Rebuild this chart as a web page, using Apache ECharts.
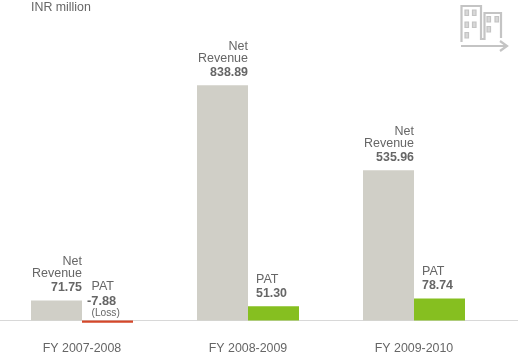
<!DOCTYPE html>
<html><head><meta charset="utf-8">
<style>html,body{margin:0;padding:0;background:#fff}#c{width:518px;height:359px}</style>
<script src="https://cdn.jsdelivr.net/npm/echarts@6/dist/echarts.min.js"></script>
</head><body><div id="c"></div>
<script>
const categories = ['FY 2007-2008', 'FY 2008-2009', 'FY 2009-2010'];
const netRevenue = [71.75, 838.89, 535.96];
const pat = [-7.88, 51.30, 78.74];
const unitLabel = 'INR million';
const font = '"Liberation Sans", Arial, sans-serif';
const grey = '#666';
const iconColor = '#c4c4c4';
const baseColor = '#d8d8d8';

const richText = {
  n: {fontFamily: font, fontSize: 12.5, color: grey, lineHeight: 12},
  b: {fontFamily: font, fontSize: 12.4, color: grey, fontWeight: 'bold', lineHeight: 17},
  n2: {fontFamily: font, fontSize: 12.5, color: grey, lineHeight: 12, padding: [0, 0, 0, 4.5]},
  b2: {fontFamily: font, fontSize: 12.8, color: grey, fontWeight: 'bold', lineHeight: 16},
  s: {fontFamily: font, fontSize: 10.2, color: grey, lineHeight: 8, padding: [0, 0, 0, 4.5]}
};
const win = (x, y) => ({type: 'rect', shape: {x, y, width: 3.5, height: 5.5}, style: {fill: '#d8d8d8', stroke: iconColor, lineWidth: 1.2}});

const chart = echarts.init(document.getElementById('c'));
chart.setOption({
  animation: false,
  backgroundColor: '#fff',
  title: {text: unitLabel, left: 31, top: 2, padding: 0, textStyle: {fontFamily: font, fontSize: 12.4, color: grey, fontWeight: 'normal'}},
  grid: {left: -1, width: 498, top: 68, height: 280.6, outerBoundsMode: 'none'},
  xAxis: {
    type: 'category', data: categories, offset: -28,
    axisLine: {show: false}, axisTick: {show: false},
    axisLabel: {fontFamily: font, fontSize: 12.4, color: grey, margin: 22}
  },
  yAxis: {type: 'value', min: -100, max: 900, show: false, splitLine: {show: false}},
  series: [
    {
      type: 'bar', data: netRevenue, barWidth: 51, barGap: 0,
      itemStyle: {color: '#d0cfc7'},
      label: {
        show: true, position: ['100%', -4], align: 'right', verticalAlign: 'bottom',
        rich: richText,
        formatter: p => '{n|Net}\n{n|Revenue}\n{b|' + p.value.toFixed(2) + '}'
      }
    },
    {
      type: 'bar', barWidth: 51, barGap: 0,
      data: pat.map(v => v < 0
        ? {value: v, itemStyle: {color: '#d4472a'}, label: {position: [5, -3.5]}}
        : {value: v}),
      itemStyle: {color: '#86bf20'},
      label: {
        show: true, position: [8, -4], align: 'left', verticalAlign: 'bottom',
        rich: richText,
        formatter: p => p.value < 0
          ? '{n2|PAT}\n{b2|' + p.value.toFixed(2) + '}\n{s|(Loss)}'
          : '{n|PAT}\n{b|' + p.value.toFixed(2) + '}'
      }
    }
  ],
  graphic: [
    {type: 'line', z: -1, shape: {x1: 0, y1: 320.5, x2: 518, y2: 320.5}, style: {stroke: baseColor, lineWidth: 1}},
    {type: 'group', silent: true, children: [
      {type: 'polyline', shape: {points: [[461.5, 42], [461.5, 6], [481, 6], [481, 39], [484.5, 39], [484.5, 13], [501, 13], [501, 38]]}, style: {fill: 'none', stroke: iconColor, lineWidth: 2.2}},
      {type: 'polyline', shape: {points: [[461, 46], [507, 46]]}, style: {fill: 'none', stroke: iconColor, lineWidth: 2.2}},
      {type: 'polyline', shape: {points: [[500, 41], [507, 46], [500, 51]]}, style: {fill: 'none', stroke: iconColor, lineWidth: 2.2}},
      win(465, 10), win(472.5, 10), win(465, 22), win(472.5, 22), win(465, 32.5),
      win(487, 16.5), win(495, 16.5), win(487, 26.5)
    ]}
  ]
});
</script></body></html>
